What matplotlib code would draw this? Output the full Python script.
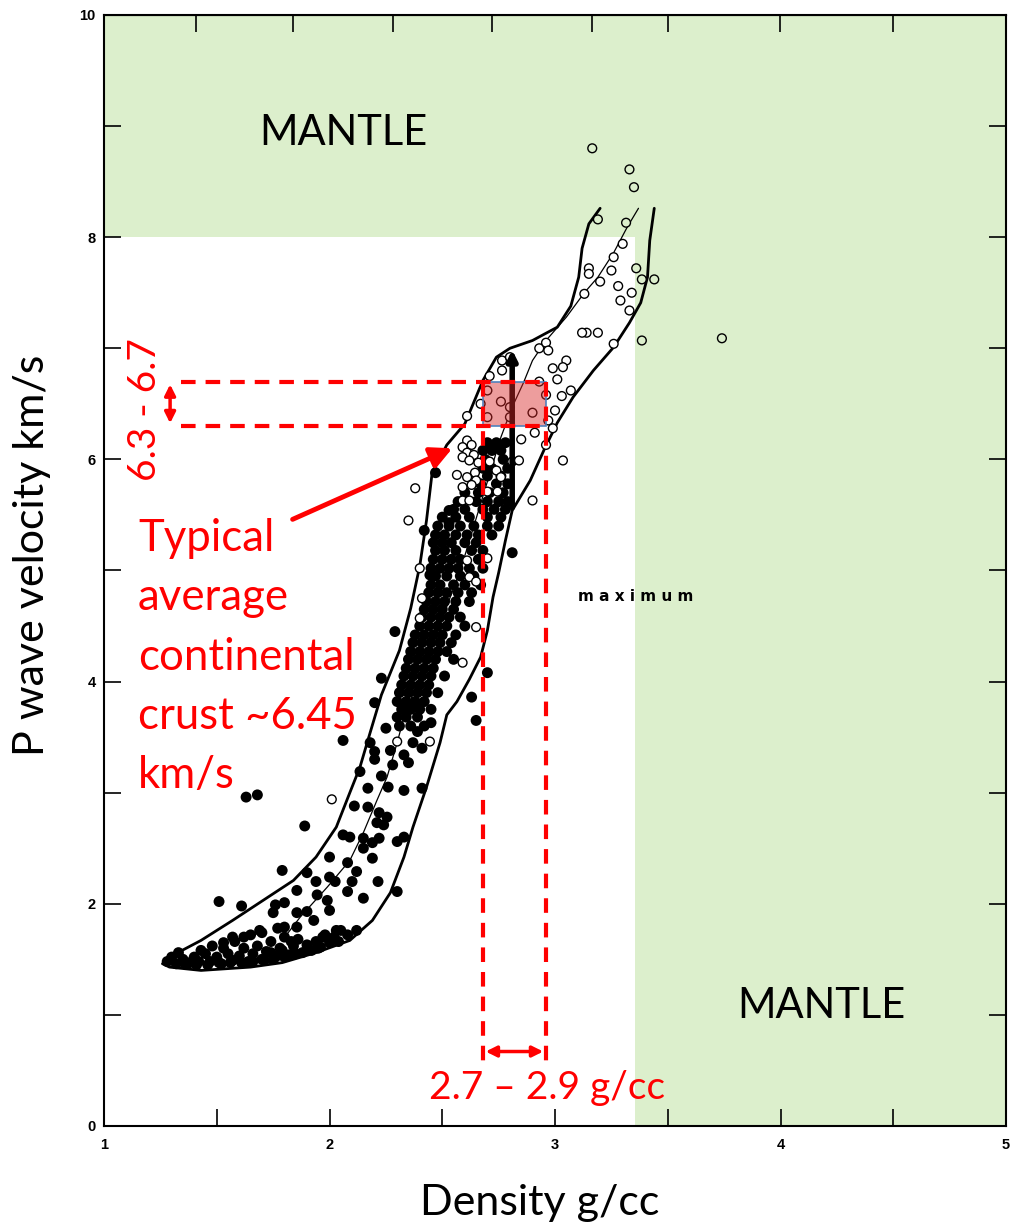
import matplotlib.pyplot as plt
from matplotlib.patches import Rectangle

# envelope curves (density g/cc, Vp km/s)
upper_env = [(1.26, 1.46), (1.29, 1.52), (1.43, 1.67), (1.57, 1.85), (1.705, 2.03), (1.84, 2.21),
             (1.94, 2.42), (2.03, 2.69), (2.09, 3.00), (2.135, 3.23), (2.18, 3.54), (2.23, 3.88),
             (2.31, 4.28), (2.36, 4.66), (2.40, 5.04), (2.43, 5.45), (2.455, 5.88), (2.52, 6.13),
             (2.60, 6.32), (2.68, 6.71), (2.74, 6.92), (2.80, 7.00), (2.90, 7.07), (3.01, 7.19),
             (3.07, 7.38), (3.105, 7.64), (3.12, 7.90), (3.15, 8.12), (3.20, 8.26)]
lower_env = [(3.44, 8.26), (3.42, 7.97), (3.41, 7.64), (3.38, 7.41), (3.33, 7.23), (3.26, 7.01),
             (3.17, 6.80), (3.08, 6.56), (3.01, 6.33), (2.95, 6.08), (2.89, 5.81), (2.81, 5.54),
             (2.78, 5.27), (2.75, 4.98), (2.725, 4.76), (2.70, 4.46), (2.67, 4.22), (2.62, 4.02),
             (2.565, 3.82), (2.52, 3.70), (2.49, 3.45), (2.43, 3.05), (2.37, 2.69), (2.33, 2.42),
             (2.27, 2.10), (2.19, 1.85), (2.09, 1.67), (1.94, 1.56), (1.79, 1.47), (1.65, 1.43),
             (1.43, 1.40), (1.29, 1.43), (1.26, 1.46)]
mid_line = [(3.37, 8.26), (3.32, 8.09), (3.26, 7.86), (3.19, 7.64), (3.13, 7.50), (3.05, 7.28),
            (2.96, 7.07), (2.90, 6.89), (2.86, 6.69), (2.81, 6.47), (2.76, 6.20), (2.70, 5.80),
            (2.58, 5.00), (2.45, 4.30), (2.33, 3.68), (2.30, 3.45), (2.255, 3.14), (2.21, 2.93),
            (2.15, 2.64), (2.09, 2.39), (1.99, 2.15), (1.87, 1.88), (1.79, 1.67)]

# solid dots, low velocity band
band_dots = [(1.28, 1.48), (1.30, 1.52), (1.32, 1.46), (1.35, 1.50), (1.38, 1.47), (1.40, 1.52),
             (1.42, 1.48), (1.45, 1.55), (1.47, 1.48), (1.50, 1.52), (1.52, 1.46), (1.55, 1.55),
             (1.57, 1.49), (1.60, 1.53), (1.62, 1.60), (1.64, 1.48), (1.66, 1.55), (1.68, 1.62),
             (1.70, 1.50), (1.72, 1.57), (1.74, 1.66), (1.76, 1.52), (1.78, 1.60), (1.80, 1.70),
             (1.82, 1.54), (1.84, 1.62), (1.86, 1.68), (1.88, 1.56), (1.90, 1.63), (1.92, 1.58),
             (1.94, 1.66), (1.96, 1.61), (1.98, 1.72), (2.00, 1.65), (2.02, 1.70), (2.05, 1.76),
             (1.33, 1.56), (1.43, 1.58), (1.53, 1.60), (1.48, 1.62), (1.58, 1.66), (1.62, 1.70),
             (1.70, 1.74), (1.77, 1.78), (1.69, 1.76), (1.65, 1.72), (1.57, 1.70), (1.53, 1.65),
             (1.36, 1.46), (1.41, 1.45), (1.46, 1.45), (1.51, 1.47), (1.56, 1.47), (1.61, 1.47),
             (1.66, 1.48), (1.71, 1.49), (1.75, 1.50), (1.80, 1.52), (1.85, 1.55), (1.90, 1.58),
             (1.95, 1.60), (2.04, 1.66), (2.08, 1.72), (1.74, 1.56), (1.79, 1.58), (1.83, 1.66),
             (1.80, 2.01), (1.855, 1.92), (1.90, 1.93), (1.93, 1.85), (1.76, 1.99), (1.75, 1.92),
             (2.00, 1.94), (1.80, 1.79), (1.855, 1.79), (2.03, 1.76), (2.12, 1.76), (1.97, 1.70),
             (2.08, 2.11), (2.15, 2.05), (1.855, 2.12), (1.945, 2.08), (1.99, 2.03), (2.00, 2.24),
             (2.025, 2.20), (1.94, 2.20), (2.10, 2.20), (2.215, 2.20), (1.90, 2.28), (2.00, 2.42),
             (2.08, 2.37), (2.12, 2.29), (2.19, 2.41), (2.15, 2.50), (2.06, 2.62), (2.09, 2.60),
             (2.15, 2.59), (2.19, 2.55), (2.22, 2.59), (2.33, 2.60), (2.30, 2.56), (2.11, 2.88),
             (2.17, 2.87), (2.22, 2.82), (2.255, 2.78), (2.21, 2.73), (2.24, 2.71), (2.41, 3.04),
             (2.33, 3.02), (2.26, 3.05), (2.17, 3.04), (2.135, 3.19), (2.20, 3.30), (2.18, 3.45),
             (2.23, 3.15), (2.28, 3.25), (2.25, 3.58), (2.20, 3.37), (2.39, 3.55), (2.41, 3.40),
             (2.45, 3.63), (2.37, 3.45), (2.33, 3.34), (2.35, 3.27), (2.27, 3.38)]

# solid dots, crustal cluster
crust_dots = [(2.70, 6.15), (2.74, 6.15), (2.78, 6.15), (2.68, 6.08), (2.72, 6.08), (2.76, 6.08),
              (2.69, 6.00), (2.77, 6.00), (2.68, 5.92), (2.72, 5.92), (2.79, 5.92), (2.70, 5.85),
              (2.76, 5.85), (2.67, 5.78), (2.74, 5.78), (2.79, 5.78), (2.60, 5.70), (2.66, 5.70),
              (2.71, 5.70), (2.77, 5.70), (2.57, 5.62), (2.65, 5.62), (2.70, 5.62), (2.75, 5.62),
              (2.79, 5.62), (2.55, 5.55), (2.60, 5.55), (2.68, 5.55), (2.73, 5.55), (2.78, 5.55),
              (2.50, 5.48), (2.56, 5.48), (2.62, 5.48), (2.70, 5.48), (2.76, 5.48), (2.48, 5.40),
              (2.53, 5.40), (2.58, 5.40), (2.64, 5.40), (2.70, 5.40), (2.75, 5.40), (2.47, 5.32),
              (2.51, 5.32), (2.56, 5.32), (2.61, 5.32), (2.66, 5.32), (2.72, 5.32), (2.46, 5.25),
              (2.50, 5.25), (2.54, 5.25), (2.60, 5.25), (2.65, 5.25), (2.47, 5.18), (2.51, 5.18),
              (2.56, 5.18), (2.63, 5.18), (2.68, 5.18), (2.46, 5.10), (2.50, 5.10), (2.54, 5.10),
              (2.58, 5.10), (2.66, 5.10), (2.45, 5.02), (2.49, 5.02), (2.53, 5.02), (2.57, 5.02),
              (2.62, 5.02), (2.68, 5.02), (2.47, 4.95), (2.52, 4.95), (2.58, 4.95), (2.64, 4.95),
              (2.45, 4.87), (2.49, 4.87), (2.55, 4.87), (2.60, 4.87), (2.67, 4.87), (2.44, 4.80),
              (2.48, 4.80), (2.52, 4.80), (2.57, 4.80), (2.63, 4.80), (2.43, 4.72), (2.47, 4.72),
              (2.51, 4.72), (2.56, 4.72), (2.62, 4.72), (2.42, 4.65), (2.46, 4.65), (2.50, 4.65),
              (2.55, 4.65), (2.41, 4.58), (2.45, 4.58), (2.49, 4.58), (2.53, 4.58), (2.58, 4.58),
              (2.40, 4.50), (2.44, 4.50), (2.48, 4.50), (2.52, 4.50), (2.60, 4.50), (2.38, 4.42),
              (2.42, 4.42), (2.46, 4.42), (2.50, 4.42), (2.56, 4.42), (2.37, 4.35), (2.41, 4.35),
              (2.45, 4.35), (2.49, 4.35), (2.54, 4.35), (2.36, 4.27), (2.40, 4.27), (2.44, 4.27),
              (2.48, 4.27), (2.52, 4.27), (2.35, 4.20), (2.39, 4.20), (2.43, 4.20), (2.47, 4.20),
              (2.55, 4.20), (2.34, 4.12), (2.38, 4.12), (2.42, 4.12), (2.46, 4.12), (2.33, 4.05),
              (2.37, 4.05), (2.41, 4.05), (2.45, 4.05), (2.51, 4.05), (2.32, 3.97), (2.36, 3.97),
              (2.40, 3.97), (2.44, 3.97), (2.31, 3.90), (2.35, 3.90), (2.39, 3.90), (2.43, 3.90),
              (2.48, 3.90), (2.30, 3.82), (2.34, 3.82), (2.38, 3.82), (2.42, 3.82), (2.32, 3.75),
              (2.36, 3.75), (2.40, 3.75), (2.45, 3.75), (2.30, 3.68), (2.34, 3.68), (2.39, 3.68),
              (2.31, 3.60), (2.36, 3.60), (2.42, 3.60)]

# scattered solid dots outside the main cluster
stray_dots = [(2.06, 3.47), (1.63, 2.96), (1.68, 2.98), (1.89, 2.70), (1.79, 2.30), (1.51, 2.02),
              (1.61, 1.98), (2.30, 2.11), (2.81, 5.16), (2.70, 4.08), (2.63, 3.86), (2.65, 3.65),
              (2.53, 5.54), (2.53, 5.43), (2.445, 4.96), (2.23, 4.03), (2.20, 3.81), (2.47, 5.88),
              (2.42, 5.36), (2.29, 4.45)]

# open circles
open_circles = [(3.165, 8.80), (3.33, 8.61), (3.35, 8.45), (3.19, 8.16), (3.315, 8.13), (3.30, 7.94),
                (3.26, 7.82), (3.15, 7.72), (3.15, 7.67), (3.25, 7.70), (3.36, 7.72), (3.20, 7.60),
                (3.28, 7.56), (3.385, 7.62), (3.44, 7.62), (3.34, 7.50), (3.13, 7.49), (3.29, 7.43),
                (3.33, 7.34), (3.14, 7.14), (3.19, 7.14), (3.12, 7.14), (3.26, 7.04), (3.385, 7.07),
                (3.74, 7.09), (2.93, 7.00), (2.96, 7.05), (2.97, 6.98), (2.765, 6.89), (2.80, 6.92),
                (2.765, 6.80), (3.05, 6.89), (3.035, 6.83), (2.99, 6.82), (2.71, 6.75), (2.93, 6.70),
                (3.01, 6.72), (3.07, 6.62), (3.03, 6.57), (2.96, 6.58), (2.70, 6.62), (2.67, 6.50),
                (2.76, 6.52), (2.80, 6.47), (2.90, 6.42), (3.00, 6.44), (2.61, 6.39), (2.70, 6.38),
                (2.80, 6.38), (2.97, 6.35), (2.99, 6.28), (2.91, 6.24), (2.85, 6.18), (2.96, 6.13),
                (3.035, 5.99), (2.81, 5.98), (2.61, 6.17), (2.63, 6.13), (2.59, 6.11), (2.61, 6.06),
                (2.64, 6.04), (2.59, 6.02), (2.66, 5.97), (2.62, 5.99), (2.645, 5.88), (2.61, 5.84),
                (2.65, 5.81), (2.59, 5.75), (2.63, 5.77), (2.59, 5.63), (2.62, 5.63), (2.565, 5.86),
                (2.38, 5.74), (2.35, 5.45), (2.40, 5.02), (2.41, 4.75), (2.40, 4.57), (2.65, 4.49),
                (2.59, 4.17), (2.70, 5.11), (2.62, 4.94), (2.65, 4.90), (2.61, 5.09), (2.84, 5.99),
                (2.90, 5.63), (2.71, 5.98), (2.74, 5.90), (2.70, 5.71), (2.745, 5.71), (2.76, 5.84),
                (2.01, 2.94), (2.30, 3.46), (2.445, 3.46)]

# thick "maximum" line
max_line_x = 2.81
max_line_y = (5.54, 7.01)

# red annotations
v_range = (6.3, 6.7)
rho_range = (2.68, 2.96)
mantle_rho = 3.355
mantle_v = 8.0

green = '#dcefcc'
red = '#ff0000'
font = 'Lato'

fig = plt.figure(figsize=(10.11, 12.28), dpi=100)
ax = fig.add_axes([0.1029, 0.0831, 0.8922, 0.9047])
ax.set_xlim(1, 5)
ax.set_ylim(0, 10)

# mantle shading
ax.add_patch(Rectangle((1, mantle_v), 4, 10 - mantle_v, facecolor=green, edgecolor='none', zorder=0))
ax.add_patch(Rectangle((mantle_rho, 0), 5 - mantle_rho, mantle_v, facecolor=green, edgecolor='none', zorder=0))

# envelope + centre line
for curve, lw in [(upper_env, 2.0), (lower_env, 2.0), (mid_line, 0.9)]:
    ax.plot([p[0] for p in curve], [p[1] for p in curve], color='black', lw=lw, zorder=2,
            solid_capstyle='round')

solid = band_dots + crust_dots + stray_dots
ax.scatter([p[0] for p in solid], [p[1] for p in solid], s=62, color='black', edgecolors='none', zorder=3)

oc_face = [green if (x > mantle_rho or y > mantle_v) else 'white' for x, y in open_circles]
ax.scatter([p[0] for p in open_circles], [p[1] for p in open_circles], s=40, facecolors=oc_face,
           edgecolors='black', linewidths=1.0, zorder=4)

ax.annotate('', xy=(max_line_x, max_line_y[1]), xytext=(max_line_x, max_line_y[0]),
            arrowprops=dict(arrowstyle='-|>', lw=4, color='black', mutation_scale=14), zorder=4)
ax.text(3.10, 4.77, 'm a x i m u m', fontsize=11, fontweight='bold', va='center', ha='left',
        family='DejaVu Sans', zorder=5)

# red box and dashed guides
ax.add_patch(Rectangle((rho_range[0], v_range[0]), rho_range[1] - rho_range[0], v_range[1] - v_range[0],
                       facecolor=(0.85, 0.15, 0.15, 0.45), edgecolor='#4f81bd', lw=1.2, zorder=5))
dash = (3.5, 2.4)
for v in v_range:
    ax.plot([1.34, rho_range[1]], [v, v], color=red, lw=3, dashes=dash, zorder=6)
for r in rho_range:
    ax.plot([r, r], [v_range[1], 0.58], color=red, lw=3, dashes=dash, zorder=6)

ax.annotate('', xy=(1.293, v_range[1]), xytext=(1.293, v_range[0]),
            arrowprops=dict(arrowstyle='<|-|>', lw=2.5, color=red, mutation_scale=16), zorder=6)
ax.annotate('', xy=(rho_range[1], 0.67), xytext=(rho_range[0], 0.67),
            arrowprops=dict(arrowstyle='<|-|>', lw=2.5, color=red, mutation_scale=16), zorder=6)
ax.annotate('', xy=(2.556, 6.11), xytext=(1.825, 5.45),
            arrowprops=dict(arrowstyle='-|>', lw=3.5, color=red, mutation_scale=32), zorder=6)

ax.text(1.18, 6.45, '6.3 - 6.7', rotation=90, color=red, fontsize=28, family=font,
        ha='center', va='center', zorder=6)
ax.text(1.151, 5.47, 'Typical\naverage\ncontinental\ncrust ~6.45\nkm/s', color=red, fontsize=31.5,
        family=font, ha='left', va='top', linespacing=1.55, zorder=6)
ax.text(2.965, 0.34, '2.7 \u2013 2.9 g/cc', color=red, fontsize=28, family=font,
        ha='center', va='center', zorder=6)
ax.text(1.69, 8.94, 'MANTLE', fontsize=30, family=font, ha='left', va='center', zorder=6)
ax.text(3.81, 1.08, 'MANTLE', fontsize=30, family=font, ha='left', va='center', zorder=6)

# axes decoration
for s in ax.spines.values():
    s.set_linewidth(1.5)
ax.set_xticks([1, 2, 3, 4, 5])
ax.set_xticks([1.5, 2.5, 3.5, 4.5], minor=True)
ax.set_yticks([0, 2, 4, 6, 8, 10])
ax.set_yticks([1, 3, 5, 7, 9], minor=True)
ax.tick_params(which='both', direction='in', length=12, width=1.2, right=True)
ax.tick_params(axis='x', pad=9)
ax.tick_params(axis='y', pad=6)
for lab in ax.get_xticklabels() + ax.get_yticklabels():
    lab.set_fontweight('bold')
    lab.set_fontsize(10.5)
    lab.set_family('Liberation Sans')

top = ax.secondary_xaxis('top')
top.set_xticks([1.408, 1.838, 2.282, 2.721, 3.164, 3.501, 3.998, 4.499])
top.tick_params(direction='in', length=12, width=1.2, labeltop=False)

fig.text(0.534, 0.0204, 'Density g/cc', fontsize=31, family=font, ha='center', va='center')
fig.text(0.0317, 0.548, 'P wave velocity km/s', fontsize=31, family=font, rotation=90,
         ha='center', va='center')

fig.savefig('out.png', dpi=100)
